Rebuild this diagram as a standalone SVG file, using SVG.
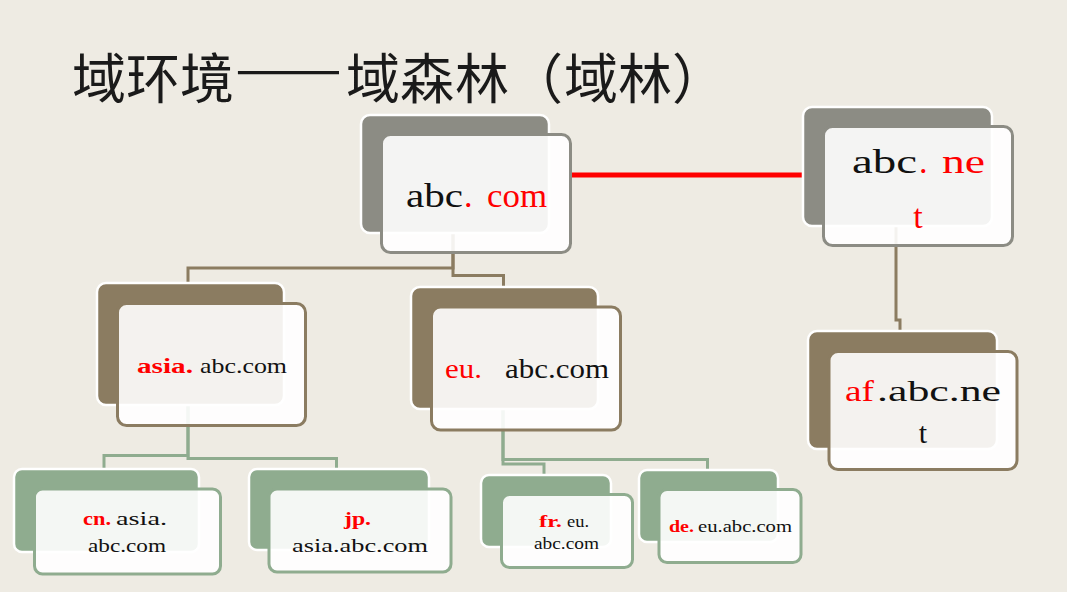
<svg xmlns="http://www.w3.org/2000/svg" width="1067" height="592" viewBox="0 0 1067 592">
<style>
.bg{fill:#eeebe3}
.back{stroke:#ffffff;stroke-width:2.5}
.front{fill:#ffffff;fill-opacity:0.9;stroke-width:3}
.gray .back{fill:#8c8c84}.gray .front{stroke:#8c8c84}
.brown .back{fill:#8b7c61}.brown .front{stroke:#8b7c61}
.green .back{fill:#8fac8f}.green .front{stroke:#8fac8f}
.t{font-family:"Liberation Serif","DejaVu Serif",serif;fill:#111111}
.r{fill:#ff0000}
.b{font-weight:bold}
.title{font-family:"Noto Sans CJK SC","Noto Sans CJK TC",sans-serif;font-size:54px;fill:#1a1a1a}
.cb{fill:none;stroke:#8b7c61;stroke-width:3}
.cg{fill:none;stroke:#8fac8f;stroke-width:3}
</style>
<rect class="bg" x="0" y="0" width="1067" height="592"/>
<text class="title" x="72 126 180" y="99">域环境</text>
<text class="title" x="235" y="88" textLength="107" lengthAdjust="spacingAndGlyphs">——</text>
<text class="title" x="346 400 455 509 564 618 672" y="99">域森林（域林）</text>

<g id="connectors">
<path class="cb" d="M453,233 V268 H188 V283"/>
<path class="cb" d="M453,233 V275.5 H503.5 V287"/>
<path class="cb" d="M896,226 V320 H900 V331"/>
<path class="cg" d="M188,405 V455.5 H104 V469"/>
<path class="cg" d="M188,405 V458.5 H336.5 V469"/>
<path class="cg" d="M503,409 V464 H544 V475"/>
<path class="cg" d="M503,409 V459.5 H707.5 V470"/>
<line x1="570" y1="175" x2="823" y2="175" stroke="#ff0000" stroke-width="5"/>
</g>

<g id="root" class="gray">
<rect class="back" x="361" y="115" width="188" height="118" rx="9"/>
<rect class="front" x="381.5" y="134.5" width="189" height="118" rx="9"/>
<text class="t" x="406" y="207" font-size="34" textLength="57" lengthAdjust="spacingAndGlyphs">abc</text>
<text class="t r" x="464" y="207" font-size="34">.</text>
<text class="t r" x="487" y="207" font-size="34" textLength="60" lengthAdjust="spacingAndGlyphs">com</text>
</g>

<g id="abcnet" class="gray">
<rect class="back" x="803" y="107" width="189" height="119" rx="9"/>
<rect class="front" x="823.5" y="126.5" width="189" height="119" rx="9"/>
<text class="t" x="852" y="173" font-size="34" textLength="65" lengthAdjust="spacingAndGlyphs">abc</text>
<text class="t r" x="919" y="173" font-size="34">.</text>
<text class="t r" x="942" y="173" font-size="34" textLength="43" lengthAdjust="spacingAndGlyphs">ne</text>
<text class="t r" x="918" y="228" font-size="34" text-anchor="middle">t</text>
</g>

<g id="asia" class="brown">
<rect class="back" x="97" y="283" width="187" height="122" rx="9"/>
<rect class="front" x="117.5" y="303.5" width="188" height="122" rx="9"/>
<text class="t r b" x="137" y="373" font-size="21" textLength="56" lengthAdjust="spacingAndGlyphs">asia.</text>
<text class="t" x="200" y="373" font-size="21" textLength="87" lengthAdjust="spacingAndGlyphs">abc.com</text>
</g>

<g id="eu" class="brown">
<rect class="back" x="411" y="287" width="187" height="122" rx="9"/>
<rect class="front" x="431.5" y="307" width="189" height="123" rx="9"/>
<text class="t r" x="445" y="378" font-size="27" textLength="37" lengthAdjust="spacingAndGlyphs">eu.</text>
<text class="t" x="505" y="378" font-size="27" textLength="104" lengthAdjust="spacingAndGlyphs">abc.com</text>
</g>

<g id="af" class="brown">
<rect class="back" x="808" y="331" width="189" height="118" rx="9"/>
<rect class="front" x="829" y="351.5" width="188" height="118" rx="9"/>
<text class="t r" x="845" y="401" font-size="30" textLength="29" lengthAdjust="spacingAndGlyphs">af</text>
<text class="t" x="877" y="401" font-size="30" textLength="124" lengthAdjust="spacingAndGlyphs">.abc.ne</text>
<text class="t" x="923" y="443" font-size="30" text-anchor="middle">t</text>
</g>

<g id="cn" class="green">
<rect class="back" x="14" y="469" width="185" height="83" rx="8"/>
<rect class="front" x="34.5" y="489" width="186" height="85" rx="8"/>
<text class="t r b" x="83" y="525" font-size="19" textLength="28" lengthAdjust="spacingAndGlyphs">cn.</text>
<text class="t" x="116" y="525" font-size="19" textLength="51" lengthAdjust="spacingAndGlyphs">asia.</text>
<text class="t" x="88" y="552" font-size="19" textLength="78" lengthAdjust="spacingAndGlyphs">abc.com</text>
</g>

<g id="jp" class="green">
<rect class="back" x="249" y="469" width="180" height="81" rx="8"/>
<rect class="front" x="269" y="489" width="182" height="83" rx="8"/>
<text class="t r b" x="344" y="525" font-size="19" textLength="27" lengthAdjust="spacingAndGlyphs">jp.</text>
<text class="t" x="292" y="552" font-size="19" textLength="136" lengthAdjust="spacingAndGlyphs">asia.abc.com</text>
</g>

<g id="fr" class="green">
<rect class="back" x="481" y="475" width="130" height="72" rx="8"/>
<rect class="front" x="501.5" y="494.5" width="131" height="73" rx="8"/>
<text class="t r b" x="539" y="527" font-size="17" textLength="23" lengthAdjust="spacingAndGlyphs">fr.</text>
<text class="t" x="567" y="527" font-size="17" textLength="22" lengthAdjust="spacingAndGlyphs">eu.</text>
<text class="t" x="534" y="549" font-size="17" textLength="65" lengthAdjust="spacingAndGlyphs">abc.com</text>
</g>

<g id="de" class="green">
<rect class="back" x="639" y="470" width="139" height="72" rx="8"/>
<rect class="front" x="659" y="489.5" width="142" height="73" rx="8"/>
<text class="t r b" x="669" y="532" font-size="17" textLength="25" lengthAdjust="spacingAndGlyphs">de.</text>
<text class="t" x="698" y="532" font-size="17" textLength="94" lengthAdjust="spacingAndGlyphs">eu.abc.com</text>
</g>
</svg>
